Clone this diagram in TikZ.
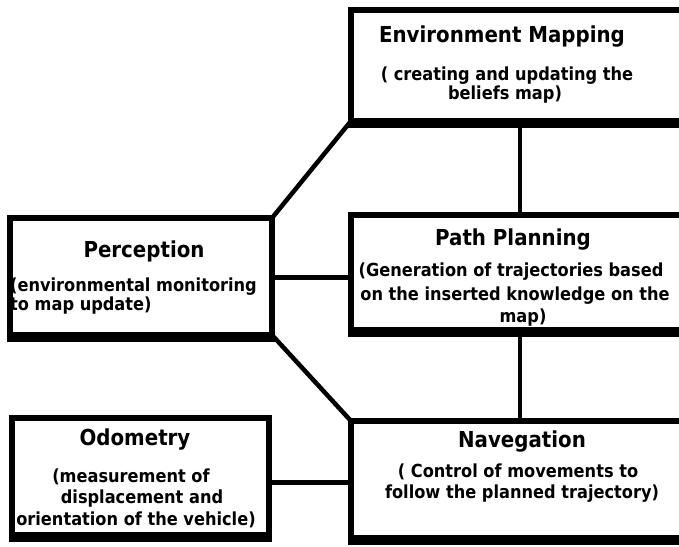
\documentclass[tikz,border=0pt]{standalone}
\usepackage{fontspec}
\setmainfont[FakeStretch=0.9]{DejaVu Sans}
\begin{document}
\begin{tikzpicture}[x=1pt,y=-1pt,
  box/.style={draw, line width=6pt, rectangle, inner sep=0pt, outer sep=0pt},
  ttl/.style={anchor=base, inner sep=0pt, font=\fontsize{22}{26}\selectfont\bfseries},
  bodytxt/.style={anchor=base, inner sep=0pt, font=\fontsize{18}{21}\selectfont\bfseries},
  conn/.style={line width=4.5pt},
  band/.style={line width=6pt}]
\useasboundingbox (0,0) rectangle (679,546);
\clip (0,0) rectangle (679,546);
\fill[white] (0,0) rectangle (679,546);
% boxes
\node[box, minimum width=349pt, minimum height=111pt] (em)   at (525.5,65.5) {};
\node[box, minimum width=262pt, minimum height=117pt] (perc) at (141,276.5) {};
\node[box, minimum width=349pt, minimum height=115pt] (pp)   at (525.5,272.5) {};
\node[box, minimum width=257pt, minimum height=117pt] (odo)  at (140.5,476.5) {};
\node[box, minimum width=349pt, minimum height=117pt] (nav)  at (525.5,479.5) {};
% thick bottom edges
\foreach \b in {em,perc,pp,odo,nav}
  \draw[band] ([xshift=-3pt,yshift=-4pt]\b.south west) -- ([xshift=3pt,yshift=-4pt]\b.south east);
% connectors
\draw[conn] (perc.north east) -- (em.south west);
\draw[conn] (perc.south east) -- (nav.north west);
\draw[conn] ([xshift=-5.5pt]em.south) -- ([xshift=-5.5pt]pp.north);
\draw[conn] ([xshift=-5.5pt]pp.south) -- ([xshift=-5.5pt]nav.north);
\draw[conn] ([yshift=-1pt]perc.east) -- ([yshift=-1pt]perc.east -| pp.west);
\draw[conn] ([yshift=-6pt]odo.east) -- ([yshift=-6pt]odo.east -| nav.west);
% texts
\node[ttl] (emt) at (502,42) {Environment Mapping};
\node[bodytxt] (emb1) at (507,80) {( creating and updating the};
\node[bodytxt] (emb2) at (505,99) {beliefs map)};
\node[ttl] (ppt) at (513,245) {Path Planning};
\node[bodytxt] (ppb1) at (511,276) {(Generation of trajectories based};
\node[bodytxt] (ppb2) at (515,300) {on the inserted knowledge on the};
\node[bodytxt] (ppb3) at (523,322) {map)};
\node[ttl] (pt) at (144,257) {Perception};
\node[bodytxt, anchor=base west] (pb1) at (10,291) {(environmental monitoring};
\node[bodytxt, anchor=base west] (pb2) at (10,310) {to map update)};
\node[ttl] (ot) at (135,445) {Odometry};
\node[bodytxt] (ob1) at (131,482) {(measurement of};
\node[bodytxt] (ob2) at (142,503) {displacement and};
\node[bodytxt] (ob3) at (136,525) {orientation of the vehicle)};
\node[ttl] (nt) at (522,447) {Navegation};
\node[bodytxt] (nb1) at (518,477) {( Control of movements to};
\node[bodytxt] (nb2) at (522,498) {follow the planned trajectory)};
\end{tikzpicture}
\end{document}
